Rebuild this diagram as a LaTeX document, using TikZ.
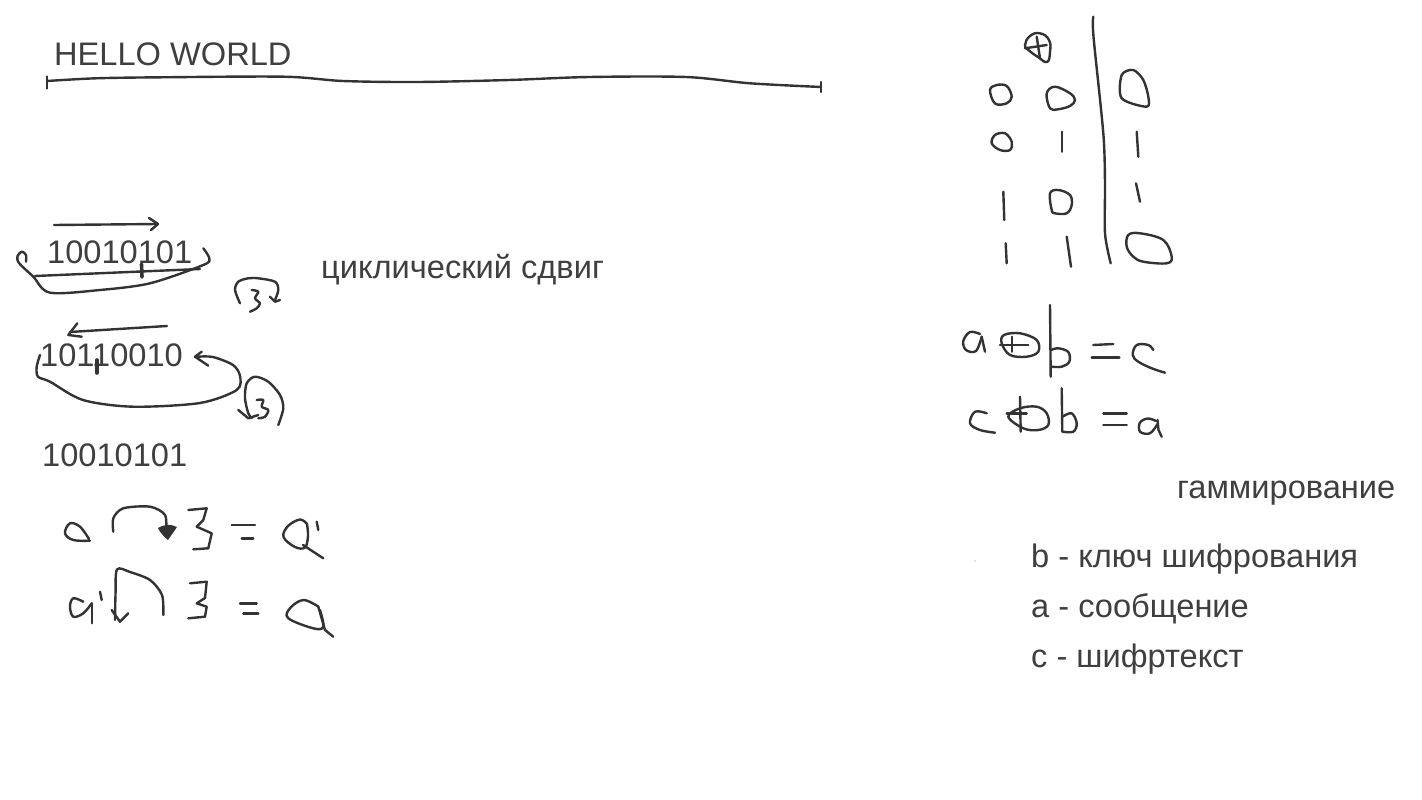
\documentclass[tikz,border=0pt]{standalone}
\usepackage{fontspec}
\setmainfont{Liberation Sans}
\definecolor{ink}{HTML}{333333}
\definecolor{txt}{HTML}{3F3F3F}
\begin{document}
\begin{tikzpicture}[x=1pt,y=-1pt,
  pen/.style={draw=ink, line width=2.4pt, line cap=round, line join=round},
  thick mark/.style={draw=ink, line width=3.6pt, line cap=round},
  lbl/.style={text=txt, font=\fontsize{32.6}{38}\selectfont, inner sep=0pt, anchor=base west}]
\fill[white] (0,0) rectangle (1422,800);
\useasboundingbox (0,0) rectangle (1422,800);

% ---------- texts ----------
\node[lbl] (hello) at (54,66) {HELLO WORLD};
\node[lbl] (n1) at (47,263) {10010101};
\node[lbl] (shift) at (321,278) {циклический сдвиг};
\node[lbl] (n2) at (40,366) {10110010};
\node[lbl] (n3) at (42,466) {10010101};
\node[lbl] (gamma) at (1177,498) {гаммирование};
\node[lbl] (kb) at (1031,567) {b - ключ шифрования};
\node[lbl] (ka) at (1031,617) {a - сообщение};
\node[lbl] (kc) at (1031,667) {c - шифртекст};
\fill[ink!60] (975,561) circle (0.7);

% ---------- HELLO WORLD span ----------
\draw[pen] plot[smooth] coordinates {(47,81)(96,78.3)(161,77.3)(284,76.7)(343,81)(418,82)(509,80)(589,77)(686,77)(750,83.3)(821,87)};
\draw[pen] (47,76.5)--(47,88.5);
\draw[pen] (821,82)--(821,92);

% ---------- first shift ----------
\draw[pen] (54,225)--(157,224);
\draw[pen] (149,218)--(158,224)--(151,230);
\draw[pen] plot[smooth] coordinates {(26,261.7)(26,255)(22,251.7)(17.5,256)(19,263)(33.3,276.7)(50,292.7)(100,290)(150,283.3)(203.3,265)(209.3,258.3)(203.3,248.3)};
\draw[pen] (35,276)--(200,269);
\draw[thick mark] (141.5,264)--(142,277);
% curl with 3
\draw[pen] plot[smooth] coordinates {(240,303.3)(235,290)(238.3,281.7)(248.3,278.3)(258.3,278.3)(275,281.7)(278.3,290)(275,300)};
\draw[pen] (270,296.7)--(275,301.7)--(280,300);
\draw[pen] plot[smooth, tension=0.5] coordinates {(251.7,290)(258.3,291.7)(255,298.3)(260,303.3)(256.7,308.3)(250,311.7)};

% ---------- second shift ----------
\draw[pen] (167,326)--(70,332);
\draw[pen] (77.3,323.3)--(68.3,335)--(81.7,336.7);
\draw[thick mark] (96.7,360)--(96.7,373);
\draw[pen] (201.7,351.7)--(195,356.7)--(208.3,365.7);
\draw[pen] plot[smooth] coordinates {(198,356.7)(213,357)(233,365)(240,376)(236.7,390)(200,403)(133,406.7)(83,400)(50,381.7)(38,376.7)(36.7,366.7)(40,355)};
\draw[pen] plot[smooth] coordinates {(278.3,425)(283.3,408.3)(280,395)(268.3,381.7)(255,376.7)(246.7,383.3)(245,398.3)(248.3,413.3)(251.7,418.3)};
\draw[pen] (238.3,410)--(248.3,418.3)--(258.3,415);
\draw[pen] plot[smooth, tension=0.5] coordinates {(256.7,400)(263.3,400)(261.7,406.7)(268.3,410)(265,416.7)(258.3,418.3)};

% ---------- a >> 3 = a' ----------
\draw[pen] plot[smooth, tension=0.6] coordinates {(89,539)(80,526.7)(70,523.3)(65,533.3)(73.3,540)(90,540.7)};
\draw[pen] plot[smooth] coordinates {(113.3,531.7)(113.3,518.3)(123.3,508.3)(150,506.7)(165,515)(166,532)};
\fill[ink] (158,528)..controls (165,524) and (171,524)..(177,527)..controls (173,533) and (170,537)..(168,540)..controls (163,536) and (160,532)..cycle;
\draw[pen] (188.3,510)--(206.7,508.3)--(203.3,520)--(196.7,526.7)--(211.7,533.3)--(208.3,548.3)--(193.3,549.3);
\draw[pen] (231.7,525)--(255,525);
\draw[pen] (241.7,538.3)--(253.3,538.3);
\draw[pen] plot[smooth, tension=0.6] coordinates {(307,524)(300,519.5)(288,526)(283.5,537)(295,547)(305,547.5)(308,536)(307,524)};
\draw[pen] (303,545)--(323.3,558.3);
\draw[pen] (316.7,521.7)--(318.3,530);

% ---------- a' << 3 = a ----------
\draw[pen] plot[smooth, tension=0.6] coordinates {(83.3,601.7)(73.3,598.3)(70,606.7)(73.3,616.7)(83.3,613.3)(91.7,603.3)};
\draw[pen] (91.7,603.3)--(91.7,623.3);
\draw[pen] (100,591.7)--(101.7,600);
\draw[pen] plot[smooth] coordinates {(163.3,615)(162,595)(150,580)(130,572)(117,569.5)(115.5,595)(115,620)};
\draw[pen] (111.7,610)--(120,621.7)--(128.3,613.3);
\draw[pen] (190,583.3)--(206.7,581.7)--(205,598)--(196.7,603.3)--(206.7,606.7)--(205,616.7)--(188.3,618.3);
\draw[pen] (240,603.3)--(256.7,603.3);
\draw[pen] (243.3,613.3)--(258.3,613.3);
\draw[pen] plot[smooth, tension=0.6] coordinates {(318.5,606.7)(303.3,600)(290,608.3)(288.3,618.3)(313.3,628.3)(323.3,626.7)(320,610)};
\draw[pen] (318.3,606.7)--(325,630)--(333.3,636.7);

% ---------- XOR table ----------
\draw[pen] plot[smooth] coordinates {(1093.3,16.7)(1093.5,36.7)(1103.3,133.3)(1105,183.3)(1105,233.3)(1110.7,263.3)};
\draw[pen] plot[smooth cycle, tension=0.8] coordinates {(1025,45)(1030,36)(1040,33.3)(1049,40)(1050,52)(1047,62)(1038,57)(1028.3,50)};
\draw[pen] (1025,48.3)--(1046.7,45);
\draw[pen] (1036.7,36.7)--(1040,58.3);
% row 1
\draw[pen] plot[smooth cycle, tension=0.6] coordinates {(995,103.5)(990,90)(996.7,85)(1006.7,86)(1011.7,96.7)(1006.7,103.3)};
\draw[pen] plot[smooth cycle, tension=0.6] coordinates {(1050,108.3)(1046.7,93.3)(1055,86.7)(1070,93.3)(1075,100)(1070,106)(1058,109.3)};
\draw[pen] plot[smooth cycle, tension=0.5] coordinates {(1121.7,98.3)(1121.7,75)(1133.3,70)(1143.3,80)(1148.3,96.7)(1146.7,106.7)};
% row 2
\draw[pen] plot[smooth cycle, tension=0.6] coordinates {(1000,150)(991.7,143.3)(995,135)(1005,133.3)(1011.7,141.7)(1010,150)};
\draw[pen] (1061.7,131.7)--(1061.7,151.7);
\draw[pen] (1136.7,131.7)--(1138.3,156.7);
% row 3
\draw[pen] (1003.3,191.7)--(1004.3,220);
\draw[pen] plot[smooth cycle, tension=0.6] coordinates {(1051.7,210)(1050,193.3)(1058.3,190)(1070,195)(1071.7,205)(1066.7,213.3)(1055,213.3)};
\draw[pen] (1136,183.3)--(1140,201.7);
% row 4
\draw[pen] (1005.7,243.3)--(1006.7,263.3);
\draw[pen] (1066.7,236.7)--(1071,266.7);
\draw[pen] plot[smooth cycle, tension=0.6] coordinates {(1126.7,246.7)(1128.3,235)(1140,233.3)(1163.3,240)(1171.7,256.7)(1166.7,263.3)(1143.3,261.7)(1133.3,256.7)};

% ---------- a xor b = c ----------
\draw[pen] plot[smooth, tension=0.6] coordinates {(980,334)(970,332)(963.3,341)(966,350)(976,351)(981.7,336.7)};
\draw[pen] (981.7,336.7)--(985,351.7);
\draw[pen] plot[smooth cycle, tension=0.6] coordinates {(1001.7,343.3)(1004,335)(1020,333.3)(1036.7,340)(1038.3,351.7)(1026.7,356.7)(1010,355)};
\draw[pen] (1000,345)--(1028.3,345);
\draw[pen] (1011.7,336.7)--(1011.7,351.7);
\draw[pen] (1050,305)--(1050.7,376.7);
\draw[pen] plot[smooth, tension=0.6] coordinates {(1051,350)(1058.3,348.3)(1068.3,352)(1069.3,361.7)(1061.7,366.7)(1051.7,366.7)};
\draw[pen] (1093.3,345)--(1113.3,344);
\draw[pen] (1091.7,357.3)--(1119.3,357.3);
\draw[pen] plot[smooth, tension=0.6] coordinates {(1153.3,350)(1148.3,345)(1136.7,345)(1132.7,355)(1138.3,361.7)(1151.7,368.3)(1165,372.7)};

% ---------- c xor b = a ----------
\draw[pen] plot[smooth, tension=0.6] coordinates {(986.7,413.3)(975,411.7)(970,423.3)(980,430)(995,432.7)};
\draw[pen] plot[smooth cycle, tension=0.6] coordinates {(1008.3,416.7)(1020,408.3)(1036.7,406.7)(1046.7,413.3)(1048.3,425)(1038.3,430)(1023.3,428.3)};
\draw[pen] (1006.7,413.3)--(1026.7,413.3);
\draw[pen] (1020,396.7)--(1020.7,431.7);
\draw[pen] (1061.7,388.3)--(1062.3,431.7);
\draw[pen] plot[smooth, tension=0.6] coordinates {(1062.7,416.7)(1071.7,413.3)(1076.7,423.3)(1073.3,431.7)(1062.7,431.7)};
\draw[pen] (1103.3,413.3)--(1126.7,413.3);
\draw[pen] (1103.3,425)--(1126.7,425);
\draw[pen] plot[smooth, tension=0.6] coordinates {(1156,421)(1148,418.5)(1140,422.5)(1140,431.7)(1150,433.3)(1157.5,424)};
\draw[pen] (1157.5,420)--(1158.5,430)--(1161.7,436.7);
\end{tikzpicture}
\end{document}
